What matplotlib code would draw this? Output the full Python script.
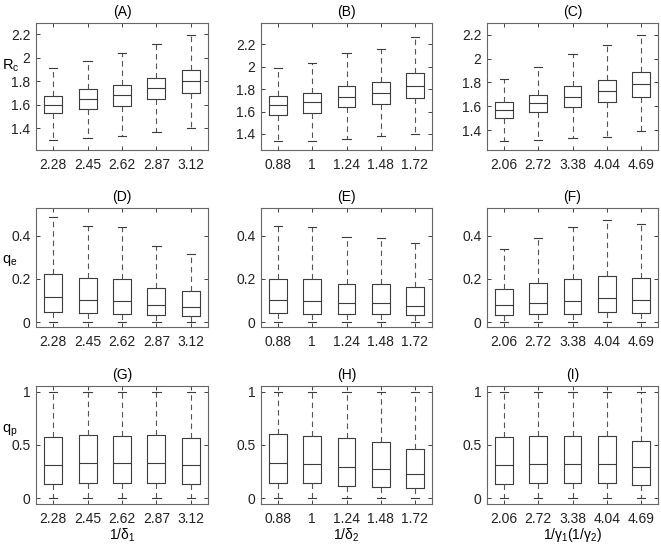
import matplotlib
matplotlib.use("Agg")
import matplotlib.pyplot as plt
from matplotlib.ticker import FuncFormatter

plt.rcParams['font.family'] = ['Liberation Sans', 'DejaVu Sans']
plt.rcParams['font.size'] = 10
plt.rcParams['mathtext.fontset'] = 'custom'
plt.rcParams['mathtext.rm'] = 'Liberation Sans'
plt.rcParams['mathtext.it'] = 'Liberation Sans'

# x tick labels per column
labels_d1 = ['2.28', '2.45', '2.62', '2.87', '3.12']
labels_d2 = ['0.88', '1', '1.24', '1.48', '1.72']
labels_g = ['2.06', '2.72', '3.38', '4.04', '4.69']

# box statistics (lower whisker, q1, median, q3, upper whisker)
A_lo = [1.298, 1.318, 1.332, 1.366, 1.400]
A_q1 = [1.525, 1.559, 1.587, 1.647, 1.695]
A_med = [1.601, 1.644, 1.681, 1.740, 1.800]
A_q3 = [1.675, 1.729, 1.769, 1.831, 1.896]
A_hi = [1.908, 1.976, 2.041, 2.115, 2.197]

B_lo = [1.337, 1.334, 1.355, 1.379, 1.403]
B_q1 = [1.571, 1.586, 1.637, 1.670, 1.724]
B_med = [1.658, 1.682, 1.730, 1.769, 1.828]
B_q3 = [1.736, 1.769, 1.825, 1.864, 1.942]
B_hi = [1.993, 2.035, 2.122, 2.158, 2.263]

C_lo = [1.310, 1.321, 1.333, 1.347, 1.394]
C_q1 = [1.504, 1.549, 1.591, 1.633, 1.681]
C_med = [1.571, 1.630, 1.681, 1.728, 1.785]
C_q3 = [1.639, 1.698, 1.771, 1.821, 1.888]
C_hi = [1.827, 1.928, 2.040, 2.110, 2.197]

D_lo = [0, 0, 0, 0, 0]
D_q1 = [0.047, 0.042, 0.039, 0.033, 0.028]
D_med = [0.115, 0.103, 0.096, 0.078, 0.068]
D_q3 = [0.221, 0.202, 0.199, 0.160, 0.143]
D_hi = [0.486, 0.445, 0.440, 0.352, 0.316]

E_lo = [0, 0, 0, 0, 0]
E_q1 = [0.042, 0.039, 0.037, 0.037, 0.031]
E_med = [0.101, 0.096, 0.089, 0.089, 0.076]
E_q3 = [0.201, 0.199, 0.177, 0.177, 0.163]
E_hi = [0.445, 0.440, 0.395, 0.388, 0.366]

F_lo = [0, 0, 0, 0, 0]
F_q1 = [0.034, 0.039, 0.039, 0.047, 0.044]
F_med = [0.081, 0.090, 0.096, 0.111, 0.104]
F_q3 = [0.154, 0.179, 0.199, 0.215, 0.205]
F_hi = [0.338, 0.392, 0.439, 0.472, 0.454]

G_lo = [0, 0, 0, 0, 0]
G_q1 = [0.129, 0.141, 0.138, 0.138, 0.129]
G_med = [0.310, 0.326, 0.326, 0.326, 0.307]
G_q3 = [0.577, 0.592, 0.586, 0.592, 0.564]
G_hi = [1, 1, 1, 1, 1]

H_lo = [0, 0, 0, 0, 0]
H_q1 = [0.144, 0.138, 0.116, 0.107, 0.091]
H_med = [0.332, 0.323, 0.295, 0.270, 0.223]
H_q3 = [0.599, 0.586, 0.564, 0.524, 0.458]
H_hi = [1, 1, 1, 1, 1]

I_lo = [0, 0, 0, 0, 0]
I_q1 = [0.132, 0.138, 0.138, 0.138, 0.122]
I_med = [0.313, 0.323, 0.323, 0.323, 0.295]
I_q3 = [0.574, 0.586, 0.586, 0.586, 0.539]
I_hi = [1, 1, 1, 1, 1]

panels = [
    ('(A)', A_lo, A_q1, A_med, A_q3, A_hi, labels_d1),
    ('(B)', B_lo, B_q1, B_med, B_q3, B_hi, labels_d2),
    ('(C)', C_lo, C_q1, C_med, C_q3, C_hi, labels_g),
    ('(D)', D_lo, D_q1, D_med, D_q3, D_hi, labels_d1),
    ('(E)', E_lo, E_q1, E_med, E_q3, E_hi, labels_d2),
    ('(F)', F_lo, F_q1, F_med, F_q3, F_hi, labels_g),
    ('(G)', G_lo, G_q1, G_med, G_q3, G_hi, labels_d1),
    ('(H)', H_lo, H_q1, H_med, H_q3, H_hi, labels_d2),
    ('(I)', I_lo, I_q1, I_med, I_q3, I_hi, labels_g),
]

ylims = [(1.213, 2.296), (1.256, 2.392), (1.234, 2.298),
         (-0.023, 0.529), (-0.023, 0.529), (-0.023, 0.529),
         (-0.055, 1.053), (-0.055, 1.053), (-0.055, 1.053)]
yticks = [[1.4, 1.6, 1.8, 2.0, 2.2]] * 3 + [[0, 0.2, 0.4]] * 3 + [[0, 0.5, 1]] * 3

lefts = [36, 261, 487]
widths = [172, 171, 171]
rows = [(23, 150), (208, 327), (386, 504)]

W, H = 661, 544
fig = plt.figure(figsize=(W / 100, H / 100), dpi=100)

box_col = '#3c3c3c'
whisk_col = '#555555'

for i, (title, lo, q1, med, q3, hi, xl) in enumerate(panels):
    r, c = divmod(i, 3)
    top, bot = rows[r]
    ax = fig.add_axes([lefts[c] / W, 1 - bot / H, widths[c] / W, (bot - top) / H])
    stats = [dict(whislo=lo[k], q1=q1[k], med=med[k], q3=q3[k], whishi=hi[k], fliers=[])
             for k in range(len(lo))]
    ax.bxp(stats, widths=0.52, showfliers=False,
           boxprops=dict(color=box_col, lw=0.8),
           medianprops=dict(color=box_col, lw=0.8),
           whiskerprops=dict(color=whisk_col, lw=0.8, linestyle=(0, (5, 3.5))),
           capprops=dict(color=box_col, lw=0.8),
           capwidths=0.24)
    ax.set_xlim(0.5, 5.5)
    ax.set_ylim(*ylims[i])
    ax.set_yticks(yticks[i])
    ax.yaxis.set_major_formatter(FuncFormatter(lambda v, p: '%g' % v))
    ax.set_xticks(range(1, 6))
    ax.set_xticklabels(xl)
    ax.tick_params(direction='in', length=3, width=0.6, top=True, right=True,
                   labelsize=10, colors='#222222', pad=4)
    ax.tick_params(axis='x', pad=6)
    for s in ax.spines.values():
        s.set_color('#666666')
        s.set_linewidth(0.8)
    ax.set_title(title, fontsize=10, pad=5)

    if c == 0:
        # ylabels sit just above the middle tick label, tucked against the axis
        name = [r'R$_{\mathrm{c}}$', r'q$_{\mathrm{e}}$', r'q$_{\mathrm{p}}$'][r]
        ax.set_ylabel(name, rotation=0, fontsize=10.5, ha='left', va='center')
        ax.yaxis.set_label_coords((2 - lefts[0]) / widths[0], [0.66, 0.56, 0.62][r])
    if r == 2:
        xname = [r'1/$\delta_1$', r'1/$\delta_2$', r'1/$\gamma_1$(1/$\gamma_2$)'][c]
        ax.set_xlabel(xname, fontsize=10, labelpad=0)

fig.savefig('out.png', dpi=100)
